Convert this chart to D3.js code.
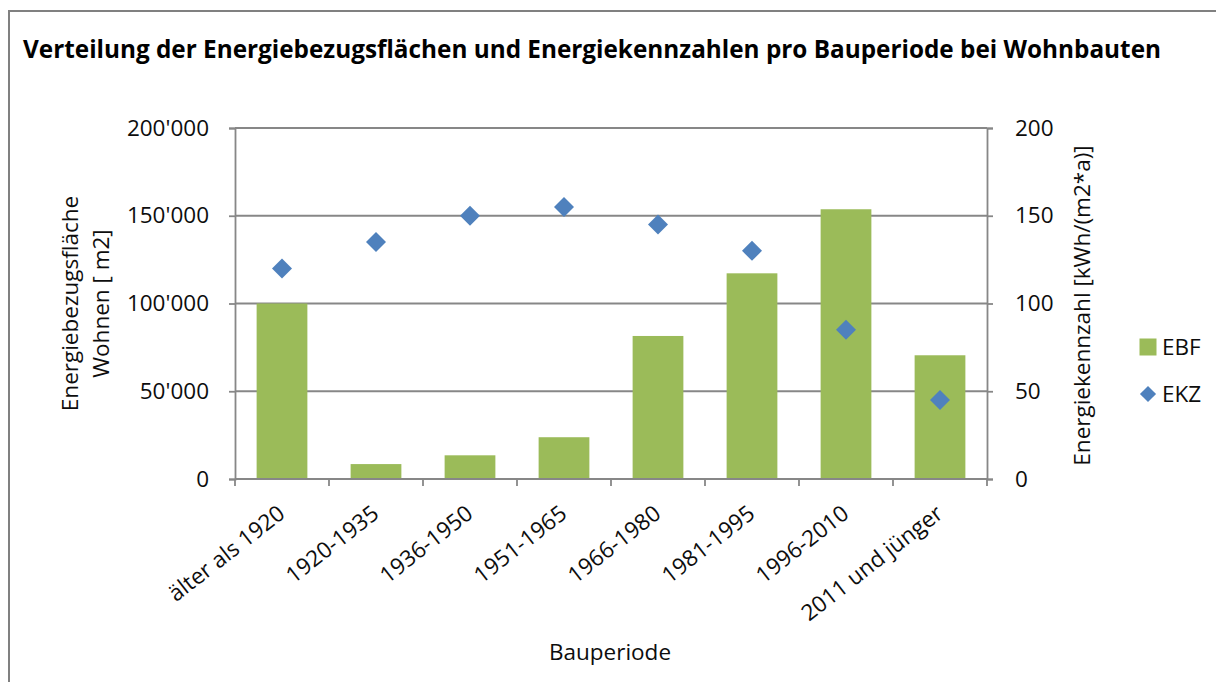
<!DOCTYPE html>
<html>
<head>
<meta charset="utf-8">
<script src="https://cdnjs.cloudflare.com/ajax/libs/d3/7.8.5/d3.min.js"></script>
<style>
  body { margin: 0; background: #fff; }
  text { font-family: "Open Sans", sans-serif; fill: #0d0d0d; }
</style>
</head>
<body>
<div class="container"></div>
<script>
// Data
const periods = ["älter als 1920", "1920-1935", "1936-1950", "1951-1965", "1966-1980", "1981-1995", "1996-2010", "2011 und jünger"];
const ebf = [100000, 8500, 13500, 23800, 81500, 117200, 153700, 70500];
const ekz = [120, 135, 150, 155, 145, 130, 85, 45];
const leftTicks = [0, 50000, 100000, 150000, 200000];
const rightTicks = [0, 50, 100, 150, 200];
const seriesNames = ["EBF", "EKZ"];

// Dimensions
const w = 1216;
const h = 682;
const plotLeft = 235, plotRight = 987, plotTop = 128, plotBottom = 479;
const green = "#9bbb59";
const blue = "#4f81bd";
const gray = "#878787";

const svg = d3.select(".container")
  .append("svg")
  .attr("width", w)
  .attr("height", h);

// Outer frame (runs off the right and bottom edge)
svg.append("rect")
  .attr("x", 9).attr("y", 11)
  .attr("width", w + 20).attr("height", h + 20)
  .attr("fill", "none")
  .attr("stroke", "#808080")
  .attr("stroke-width", 2);

// Title
svg.append("text")
  .attr("x", 23).attr("y", 58)
  .attr("textLength", 1138)
  .attr("lengthAdjust", "spacingAndGlyphs")
  .style("font-size", "25.5px")
  .style("font-weight", "bold")
  .style("fill", "#000")
  .text("Verteilung der Energiebezugsflächen und Energiekennzahlen pro Bauperiode bei Wohnbauten");

// Scales
const xScale = d3.scaleBand()
  .domain(periods)
  .range([plotLeft, plotRight])
  .paddingInner(0.46)
  .paddingOuter(0.23);

const yLeft = d3.scaleLinear().domain([0, 200000]).range([plotBottom, plotTop]);
const yRight = d3.scaleLinear().domain([0, 200]).range([plotBottom, plotTop]);

const fmt = d => d3.format(",")(d).replace(/,/g, "'");

// Gridlines
svg.append("g")
  .selectAll("line")
  .data(leftTicks)
  .enter()
  .append("line")
  .attr("x1", plotLeft).attr("x2", plotRight)
  .attr("y1", d => yLeft(d)).attr("y2", d => yLeft(d))
  .attr("stroke", gray)
  .attr("stroke-width", 1.8);

// Bars
svg.selectAll(".bar")
  .data(ebf)
  .enter()
  .append("rect")
  .attr("class", "bar")
  .attr("x", (d, i) => xScale(periods[i]))
  .attr("y", d => yLeft(d))
  .attr("width", xScale.bandwidth())
  .attr("height", d => yLeft(0) - yLeft(d))
  .attr("fill", green);

// Axes
const styleAxis = g => {
  g.select(".domain").attr("stroke", gray).attr("stroke-width", 1.8);
  g.selectAll(".tick line").attr("stroke", gray).attr("stroke-width", 1.8);
  g.selectAll(".tick text").style("font-size", "22.5px").style("font-family", "'Open Sans', sans-serif").attr("fill", "#0d0d0d");
};

svg.append("g")
  .attr("transform", `translate(${plotLeft},0)`)
  .call(d3.axisLeft(yLeft).tickValues(leftTicks).tickFormat(fmt).tickSizeOuter(0).tickSize(6).tickPadding(20))
  .call(styleAxis);

svg.append("g")
  .attr("transform", `translate(${plotRight},0)`)
  .call(d3.axisRight(yRight).tickValues(rightTicks).tickSizeOuter(0).tickSize(6).tickPadding(22))
  .call(styleAxis);

// x axis with ticks at category borders
const xAxis = svg.append("g")
  .attr("transform", `translate(0,${plotBottom})`);
xAxis.append("line")
  .attr("x1", plotLeft).attr("x2", plotRight)
  .attr("stroke", gray).attr("stroke-width", 1.8);
const borders = d3.range(periods.length + 1).map(i => plotLeft + i * xScale.step());
xAxis.selectAll(".xtick")
  .data(borders)
  .enter()
  .append("line")
  .attr("class", "xtick")
  .attr("x1", d => d).attr("x2", d => d)
  .attr("y1", 0).attr("y2", 7)
  .attr("stroke", gray).attr("stroke-width", 1.8);

xAxis.selectAll(".xlabel")
  .data(periods)
  .enter()
  .append("text")
  .attr("class", "xlabel")
  .attr("transform", d => `translate(${xScale(d) + xScale.bandwidth() / 2 - 6},${24}) rotate(-38)`)
  .attr("dy", "0.75em")
  .style("text-anchor", "end")
  .style("font-size", "22.5px")
  .text(d => d);

// Diamonds
svg.selectAll(".dot")
  .data(ekz)
  .enter()
  .append("path")
  .attr("class", "dot")
  .attr("d", d3.symbol().type(d3.symbolSquare).size(200))
  .attr("transform", (d, i) => `translate(${xScale(periods[i]) + xScale.bandwidth() / 2},${yRight(d)}) rotate(45)`)
  .attr("fill", blue);

// Axis titles
const leftTitle = svg.append("text")
  .attr("transform", `translate(70,${(plotTop + plotBottom) / 2}) rotate(-90)`)
  .style("text-anchor", "middle")
  .style("font-size", "22.5px");
leftTitle.append("tspan").attr("x", 0).attr("dy", "0.35em").text("Energiebezugsfläche");
leftTitle.append("tspan").attr("x", 0).attr("dy", "1.4em").text("Wohnen [ m2]");

svg.append("text")
  .attr("transform", `translate(1082,${(plotTop + plotBottom) / 2 + 2}) rotate(-90)`)
  .attr("dy", "0.35em")
  .style("text-anchor", "middle")
  .style("font-size", "22.5px")
  .text("Energiekennzahl [kWh/(m2*a)]");

svg.append("text")
  .attr("x", 610).attr("y", 660)
  .style("text-anchor", "middle")
  .style("font-size", "22.5px")
  .text("Bauperiode");

// Legend
const legend = svg.append("g").attr("id", "legend");
const legendItem = legend.selectAll("g")
  .data(seriesNames)
  .enter()
  .append("g")
  .attr("transform", (d, i) => `translate(1148,${347 + i * 47})`);

legendItem.filter((d, i) => i === 0)
  .append("rect")
  .attr("x", -8.5).attr("y", -8.5)
  .attr("width", 17).attr("height", 17)
  .attr("fill", green);

legendItem.filter((d, i) => i === 1)
  .append("path")
  .attr("d", d3.symbol().type(d3.symbolSquare).size(130))
  .attr("transform", "rotate(45)")
  .attr("fill", blue);

legendItem.append("text")
  .attr("x", 14)
  .attr("dy", "0.35em")
  .style("font-size", "22.5px")
  .text(d => d);
</script>
</body>
</html>
